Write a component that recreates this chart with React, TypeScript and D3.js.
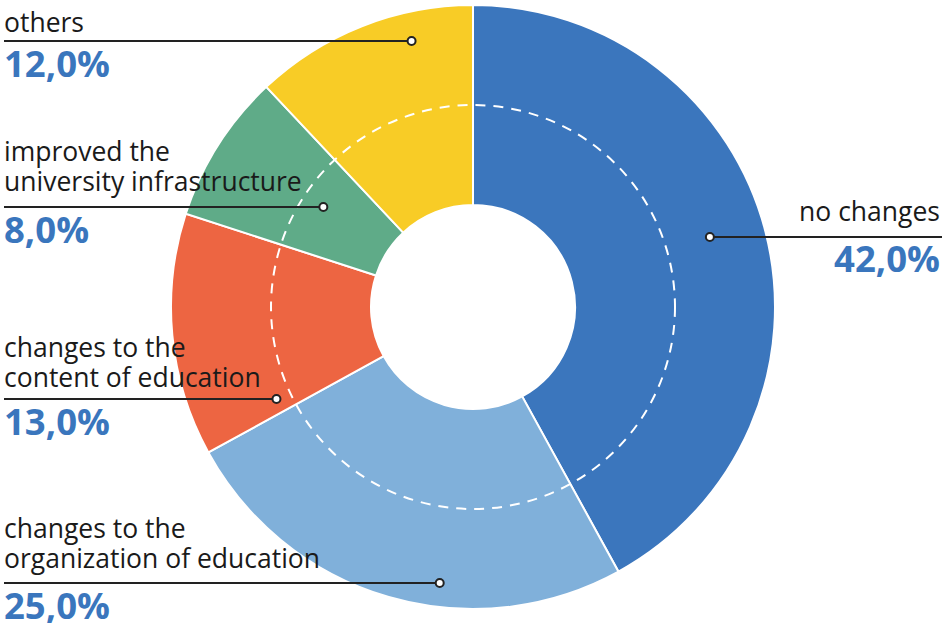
import React from "react";
import * as d3 from "d3";

const categories = [
  "no changes",
  "changes to the organization of education",
  "changes to the content of education",
  "improved the university infrastructure",
  "others",
];
const values = [42, 25, 13, 8, 12];
const colors = ["#3b76bd", "#80b0da", "#ed6542", "#5fab88", "#f8cc26"];
const labelLines = [
  ["no changes"],
  ["changes to the", "organization of education"],
  ["changes to the", "content of education"],
  ["improved the", "university infrastructure"],
  ["others"],
];
const percentLabels = ["42,0%", "25,0%", "13,0%", "8,0%", "12,0%"];

export default function App() {
  const W = 951, H = 623;
  const cx = 473, cy = 307;
  const R = 302, r0 = 102, rDash = 202;
  const pie = d3.pie<number>().value((d) => d).sort(null);
  const arcs = pie(values);
  const arcGen = d3.arc<d3.PieArcDatum<number>>().innerRadius(r0).outerRadius(R);

  // label placement: line y, side, dot radius, text gap above the line
  const layout = [
    { side: "right", lineY: 237, dotR: 247, gap: 16 },
    { side: "left", lineY: 583, dotR: 278, gap: 15 },
    { side: "left", lineY: 399, dotR: 217, gap: 12 },
    { side: "left", lineY: 207, dotR: 180, gap: 16 },
    { side: "left", lineY: 41, dotR: 273, gap: 9 },
  ];
  const font = "'Open Sans', 'Noto Sans', sans-serif";
  const fs = 26.5, lh = 30.5, pfs = 36.5;

  return (
    <svg width={W} height={H} style={{ position: "absolute", left: 0, top: 0 }}>
      <g transform={`translate(${cx},${cy})`}>
        {arcs.map((a, i) => (
          <path key={i} d={arcGen(a) || ""} fill={colors[i]} stroke="#fff" strokeWidth={2} />
        ))}
        <circle r={rDash} fill="none" stroke="#fff" strokeWidth={2} strokeDasharray="10 8" />
      </g>
      {arcs.map((a, i) => {
        const L = layout[i];
        const mid = (a.startAngle + a.endAngle) / 2;
        const dy = L.lineY - cy;
        const dx = Math.sqrt(Math.max(L.dotR * L.dotR - dy * dy, 0));
        const sgn = Math.sin(mid) >= 0 ? 1 : -1;
        const dotX = cx + sgn * dx;
        const lines = labelLines[i];
        const n = lines.length;
        if (L.side === "right") {
          return (
            <g key={i} fontFamily={font}>
              <line x1={dotX} y1={L.lineY} x2={942} y2={L.lineY} stroke="#222" strokeWidth={2} />
              <circle cx={dotX} cy={L.lineY} r={4} fill="#fff" stroke="#222" strokeWidth={2} />
              {lines.map((t, j) => (
                <text key={j} x={940} y={L.lineY - L.gap - (n - 1 - j) * lh} textAnchor="end" fontSize={fs} fill="#1a1a1a">{t}</text>
              ))}
              <text x={940} y={L.lineY + 35} textAnchor="end" fontSize={pfs} fontWeight={700} fill="#3a76bd">{percentLabels[i]}</text>
            </g>
          );
        }
        return (
          <g key={i} fontFamily={font}>
            <line x1={4} y1={L.lineY} x2={dotX} y2={L.lineY} stroke="#222" strokeWidth={2} />
            <circle cx={dotX} cy={L.lineY} r={4} fill="#fff" stroke="#222" strokeWidth={2} />
            {lines.map((t, j) => (
              <text key={j} x={4} y={L.lineY - L.gap - (n - 1 - j) * lh} fontSize={fs} fill="#1a1a1a">{t}</text>
            ))}
            <text x={4} y={L.lineY + 36} fontSize={pfs} fontWeight={700} fill="#3a76bd">{percentLabels[i]}</text>
          </g>
        );
      })}
    </svg>
  );
}
